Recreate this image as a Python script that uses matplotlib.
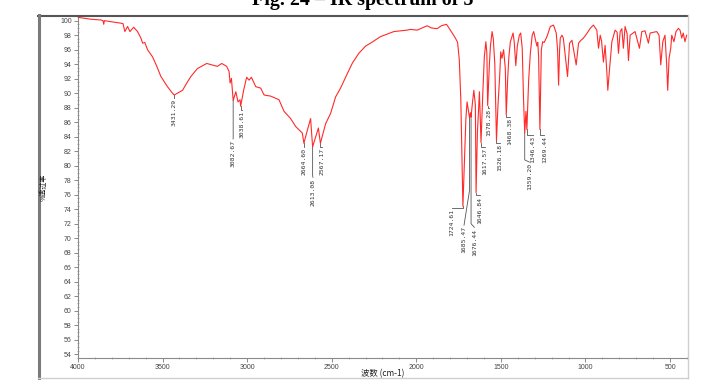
import numpy as np
import matplotlib
matplotlib.use("Agg")
import matplotlib.pyplot as plt
from matplotlib.ticker import MultipleLocator
from matplotlib.lines import Line2D

# ---------------- data ----------------
wavenumber = [
    3996, 3923, 3864, 3852, 3848, 3844, 3758, 3734, 3723, 3707,
    3693, 3671, 3648, 3628, 3618, 3605, 3589, 3559, 3534, 3510,
    3471, 3445, 3431.29, 3382, 3357, 3333, 3294, 3239, 3176, 3150,
    3121, 3107, 3101, 3093, 3082.67, 3067, 3054, 3042, 3038.61, 3020,
    3003, 2989, 2975, 2949, 2920, 2900, 2861, 2812, 2782, 2743,
    2713, 2674, 2664.60, 2644, 2625, 2613.08, 2595, 2579, 2567.17, 2536,
    2507, 2477, 2448, 2408, 2377, 2340, 2300, 2271, 2231, 2212,
    2133, 2054, 2035, 1995, 1936, 1911, 1877, 1852, 1822, 1810,
    1788, 1769, 1756, 1746, 1737, 1730, 1724.61, 1716, 1707, 1700,
    1692, 1685.47, 1680, 1676.44, 1669, 1660, 1651, 1646.84, 1639, 1627,
    1617.57, 1607, 1598, 1589, 1583, 1578.28, 1568, 1562, 1552, 1545,
    1536, 1526.18, 1518, 1507, 1501, 1494, 1484, 1474, 1468.38, 1460,
    1453, 1444, 1428, 1421, 1412, 1403, 1391, 1383, 1374, 1366,
    1359.20, 1352, 1346.43, 1336, 1326, 1315, 1306, 1297, 1287, 1282,
    1277, 1269.44, 1261, 1253, 1244, 1228, 1208, 1189, 1173, 1165,
    1159, 1153, 1149, 1139, 1131, 1120, 1106, 1094, 1080, 1067,
    1055, 1041, 1031, 1012, 990, 972, 953, 933, 923, 913,
    905, 894, 884, 874, 868, 859, 844, 825, 813, 805,
    795, 785, 776, 766, 754, 746, 736, 707, 681, 667,
    648, 628, 618, 579, 565, 555, 543, 530, 520, 514,
    506, 496, 490, 477, 465, 451, 441, 431, 422, 412, 402,
]
transmittance = [
    100.45, 100.2, 100.1, 100.0, 99.5, 100.0, 99.7, 99.6, 98.5, 99.2,
    98.5, 99.1, 98.5, 97.6, 96.9, 97.0, 96.0, 95.0, 93.7, 92.3,
    90.9, 90.1, 89.75, 90.4, 91.4, 92.3, 93.4, 94.1, 93.7, 94.1,
    93.7, 93.0, 91.4, 92.05, 89.0, 90.2, 88.8, 89.1, 88.2, 90.5,
    92.2, 91.8, 92.2, 90.9, 90.7, 89.75, 89.6, 89.1, 87.5, 86.5,
    85.4, 84.5, 83.1, 84.9, 86.5, 82.6, 84.0, 85.2, 83.1, 85.8,
    87.2, 89.5, 90.7, 92.7, 94.2, 95.5, 96.5, 96.9, 97.5, 97.8,
    98.5, 98.7, 98.8, 98.7, 99.3, 99.0, 98.9, 99.3, 99.5, 99.1,
    98.3, 97.6, 97.0, 94.6, 89.1, 80.5, 74.4, 80.5, 86.5, 88.8,
    87.6, 86.6, 87.3, 86.7, 88.5, 90.4, 88.4, 76.3, 84.5, 90.2,
    83.2, 90.0, 95.0, 97.1, 95.5, 88.3, 94.0, 96.5, 98.5, 97.5,
    94.0, 83.5, 88.0, 92.5, 95.7, 94.8, 96.0, 93.4, 87.0, 92.0,
    95.0, 97.1, 98.3, 97.0, 93.8, 96.5, 98.0, 98.3, 96.2, 89.0,
    84.5, 87.5, 85.0, 91.8, 95.5, 98.0, 98.5, 97.5, 96.5, 97.0,
    95.0, 85.0, 96.0, 97.1, 97.0, 97.8, 99.2, 99.4, 98.3, 96.0,
    91.1, 96.0, 97.6, 98.0, 97.6, 95.3, 92.3, 96.9, 97.3, 95.5,
    93.9, 96.9, 97.2, 97.6, 98.3, 98.95, 99.4, 98.7, 96.2, 98.0,
    97.2, 94.3, 96.6, 93.0, 90.4, 93.0, 97.1, 98.7, 98.4, 95.5,
    98.5, 98.9, 96.2, 99.2, 98.2, 94.5, 98.0, 98.5, 96.2, 98.5,
    98.6, 96.9, 98.3, 98.5, 98.0, 93.9, 97.1, 98.0, 93.9, 90.4,
    94.8, 96.2, 98.0, 97.1, 98.5, 98.95, 98.7, 97.6, 98.3, 97.1, 98.0,
]
assert len(wavenumber) == len(transmittance)

peak_wn = [3431.29, 3082.67, 3038.61, 2664.60, 2613.08, 2567.17, 1724.61,
           1685.47, 1676.44, 1646.84, 1617.57, 1578.28, 1526.18, 1468.38,
           1359.20, 1346.43, 1269.44]

y_ticks = list(range(54, 101, 2))
x_ticks = [4000, 3500, 3000, 2500, 2000, 1500, 1000, 500]

title_text = "Fig. 24 \u2013 IR spectrum of 5"
x_label = "波数 (cm-1)"
y_label = "%透过率"

# ---------------- layout of peak labels (text x, text top, leader elbow) -----
label_x = [3431, 3083, 3029, 2665, 2611, 2558, 1789,
           1718, 1657, 1623, 1594, 1573, 1505, 1446,
           1332, 1311, 1244]
label_top = [89.3, 83.7, 87.7, 82.6, 78.4, 82.6, 74.2,
             71.8, 71.5, 75.9, 82.6, 88.0, 83.1, 86.7,
             80.5, 84.2, 84.2]
label_elbow = [89.3, 84.0, 87.7, 82.6, 78.6, 82.6, 74.2,
               76.6, 72.0, 75.9, 82.6, 88.0, 83.1, 86.7,
               80.8, 84.2, 84.2]

# ---------------- figure ----------------
W, H = 713, 392
fig = plt.figure(figsize=(W / 100, H / 100), dpi=100)
fig.patch.set_facecolor("white")

ax = fig.add_axes([78 / W, 1 - 358 / H, (688 - 78) / W, (358 - 17) / H])
ax.set_facecolor("white")

wn = np.array(wavenumber, dtype=float)
tr = np.array(transmittance, dtype=float)
ax.plot(wn, tr, color="#ff2a2a", lw=0.8, solid_joinstyle="round", zorder=3)

ax.set_xlim(4000, 394)
ax.set_ylim(53.48, 100.51)

for s in ("top", "right"):
    ax.spines[s].set_visible(False)
for s in ("left", "bottom"):
    ax.spines[s].set_color("#8a8a8a")
    ax.spines[s].set_linewidth(0.8)

ax.set_yticks(y_ticks)
ax.set_yticklabels([str(v) for v in y_ticks])
ax.set_xticks(x_ticks)
ax.set_xticklabels([str(v) for v in x_ticks])
ax.yaxis.set_minor_locator(MultipleLocator(0.5))
ax.xaxis.set_minor_locator(MultipleLocator(100))
ax.tick_params(axis="both", which="major", length=3, width=0.6, color="#777",
               labelsize=5, labelcolor="#444", pad=1.5, direction="out")
ax.tick_params(axis="both", which="minor", length=1.5, width=0.5, color="#999",
               direction="inout")
for lab in ax.get_xticklabels() + ax.get_yticklabels():
    lab.set_fontfamily("Liberation Sans")

# peak labels
order = np.argsort(wn)
for pw, lx, lt, le in zip(peak_wn, label_x, label_top, label_elbow):
    pt = float(np.interp(pw, wn[order], tr[order]))
    ax.plot([pw, pw, lx], [pt, le, lt], color="#555555", lw=0.6, zorder=2)
    ax.text(lx, lt - 0.15, f"{pw:.2f}", rotation=90, ha="center", va="top",
            fontsize=4.6, color="#333333", family="DejaVu Sans Mono", zorder=4)

# axis labels
cjk = ["Noto Sans CJK SC", "DejaVu Sans"]
fig.text(383 / W, 1 - 374 / H, x_label, ha="center", va="center",
         fontsize=6, color="#222", family=cjk)
fig.text(44 / W, 1 - 187 / H, y_label, ha="center", va="center",
         rotation=90, fontsize=5, color="#222", family=cjk)

# title (cut off at the top, as in the reference)
fig.text(362.5 / W, 1 - 5 / H, title_text, ha="center", va="baseline",
         fontsize=14.4, fontweight="bold", family="Liberation Serif", color="black")

# outer panel frame
def fline(x0, y0, x1, y1, color, lw):
    fig.add_artist(Line2D([x0 / W, x1 / W], [1 - y0 / H, 1 - y1 / H],
                          color=color, lw=lw, transform=fig.transFigure))

fline(38, 15.7, 688, 15.7, "#555555", 1.5)
fline(38.7, 15, 38.7, 378, "#7a7a7a", 2.2)
fline(38, 378, 688, 378, "#cfcfcf", 1.0)
fline(688, 15, 688, 378, "#cfcfcf", 1.0)

fig.savefig("out.png", dpi=100)
